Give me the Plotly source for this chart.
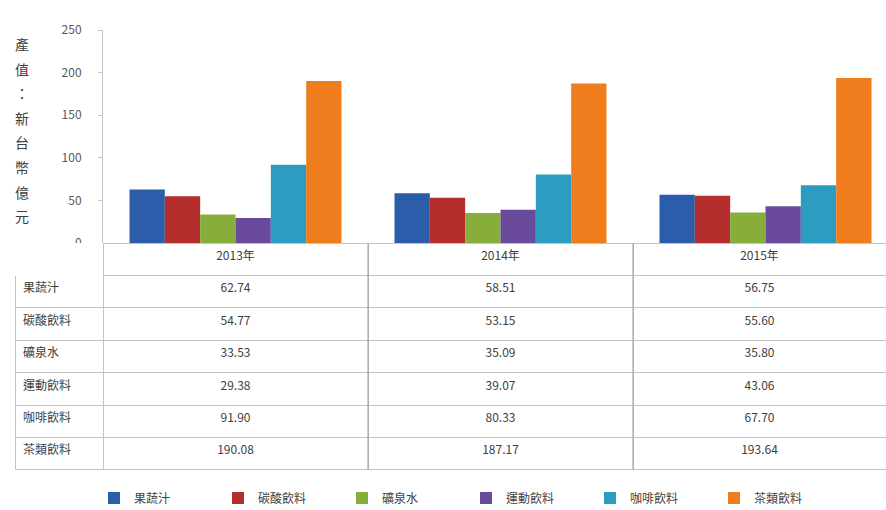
import plotly.graph_objects as go

# Categories and series (產值, 新台幣億元)
years = ["2013年", "2014年", "2015年"]
drinks = ["果蔬汁", "碳酸飲料", "礦泉水", "運動飲料", "咖啡飲料", "茶類飲料"]
juice = [62.74, 58.51, 56.75]
soda = [54.77, 53.15, 55.60]
water = [33.53, 35.09, 35.80]
sports = [29.38, 39.07, 43.06]
coffee = [91.90, 80.33, 67.70]
tea = [190.08, 187.17, 193.64]
y_ticks = [0, 50, 100, 150, 200, 250]
y_title = "產值：新台幣億元"

series = [juice, soda, water, sports, coffee, tea]
colors = ["#2B5DAB", "#B32E2C", "#87AD3A", "#6A4A9B", "#2C9DC0", "#F07D1D"]

W, H = 886, 510
PLOT_L, PLOT_T, PLOT_B = 103, 30, 243
FONT = "Noto Sans CJK TC, Noto Sans CJK SC, sans-serif"
TXT = "#404040"
GRID = "#c4c4c4"


def px_x(px):
    return px / W


def px_y(py):
    return 1 - py / H


fig = go.Figure()

for name, vals, col in zip(drinks, series, colors):
    fig.add_trace(go.Bar(
        x=years, y=vals, name=name,
        marker=dict(color=col, line=dict(width=0)),
    ))

# Data table below the bars: header row holds the years
row_h = 32.4
table_top = PLOT_B
table_bottom = table_top + row_h * 7
header_vals = [""] + years
cell_vals = [drinks] + [[f"{s[i]:.2f}" for s in series] for i in range(len(years))]
fig.add_trace(go.Table(
    domain=dict(x=[px_x(15), 1], y=[px_y(table_bottom + 1), px_y(table_top)]),
    columnwidth=[88, 265, 265, 253],
    header=dict(
        values=header_vals,
        height=row_h,
        align="center",
        fill=dict(color="white"),
        line=dict(color=["white", GRID, GRID, GRID], width=1),
        font=dict(family=FONT, size=12, color=TXT),
    ),
    cells=dict(
        values=cell_vals,
        height=row_h,
        align=["left", "center", "center", "center"],
        fill=dict(color="white"),
        line=dict(color=GRID, width=1),
        font=dict(family=FONT, size=12, color=TXT),
    ),
))

# Category dividers running from the axis through the table
for b in [0.5, 1.5]:
    fig.add_shape(type="line", xref="x", yref="paper",
                  x0=b, x1=b, y0=px_y(table_bottom), y1=px_y(table_top),
                  line=dict(color="#9a9a9a", width=1))

# Vertical axis title, one character per line
for i, ch in enumerate(y_title):
    fig.add_annotation(
        text=ch, xref="paper", yref="paper", showarrow=False,
        x=px_x(22), y=px_y(44 + 24.6 * i), xanchor="center", yanchor="middle",
        font=dict(family=FONT, size=14, color=TXT),
    )

n_cat = (W - PLOT_L) / 265.0
fig.update_layout(
    width=W, height=H,
    margin=dict(l=0, r=0, t=0, b=0, autoexpand=False),
    paper_bgcolor="white", plot_bgcolor="white",
    barmode="group", bargap=0.2, bargroupgap=0,
    font=dict(family=FONT, size=12, color=TXT),
    showlegend=True,
    legend=dict(
        orientation="h", x=px_x(94), xanchor="left", y=px_y(498), yanchor="middle",
        font=dict(family=FONT, size=12, color=TXT),
        itemwidth=30, traceorder="normal",
        entrywidth=79, entrywidthmode="pixels",
    ),
    xaxis=dict(
        type="category", range=[-0.5, -0.5 + n_cat],
        domain=[px_x(PLOT_L), 1],
        showticklabels=False, ticks="", showgrid=False,
        showline=True, linecolor=GRID, linewidth=1, zeroline=False,
    ),
    yaxis=dict(
        range=[0, 250], tickvals=y_ticks, showgrid=False, zeroline=False,
        domain=[px_y(PLOT_B), px_y(PLOT_T)],
        showline=True, linecolor=GRID, linewidth=1,
        ticks="outside", ticklen=4, tickcolor=GRID,
        ticklabelstandoff=14,
        tickfont=dict(family=FONT, size=12, color="#595959"),
    ),
)

fig.write_html("out.html")
